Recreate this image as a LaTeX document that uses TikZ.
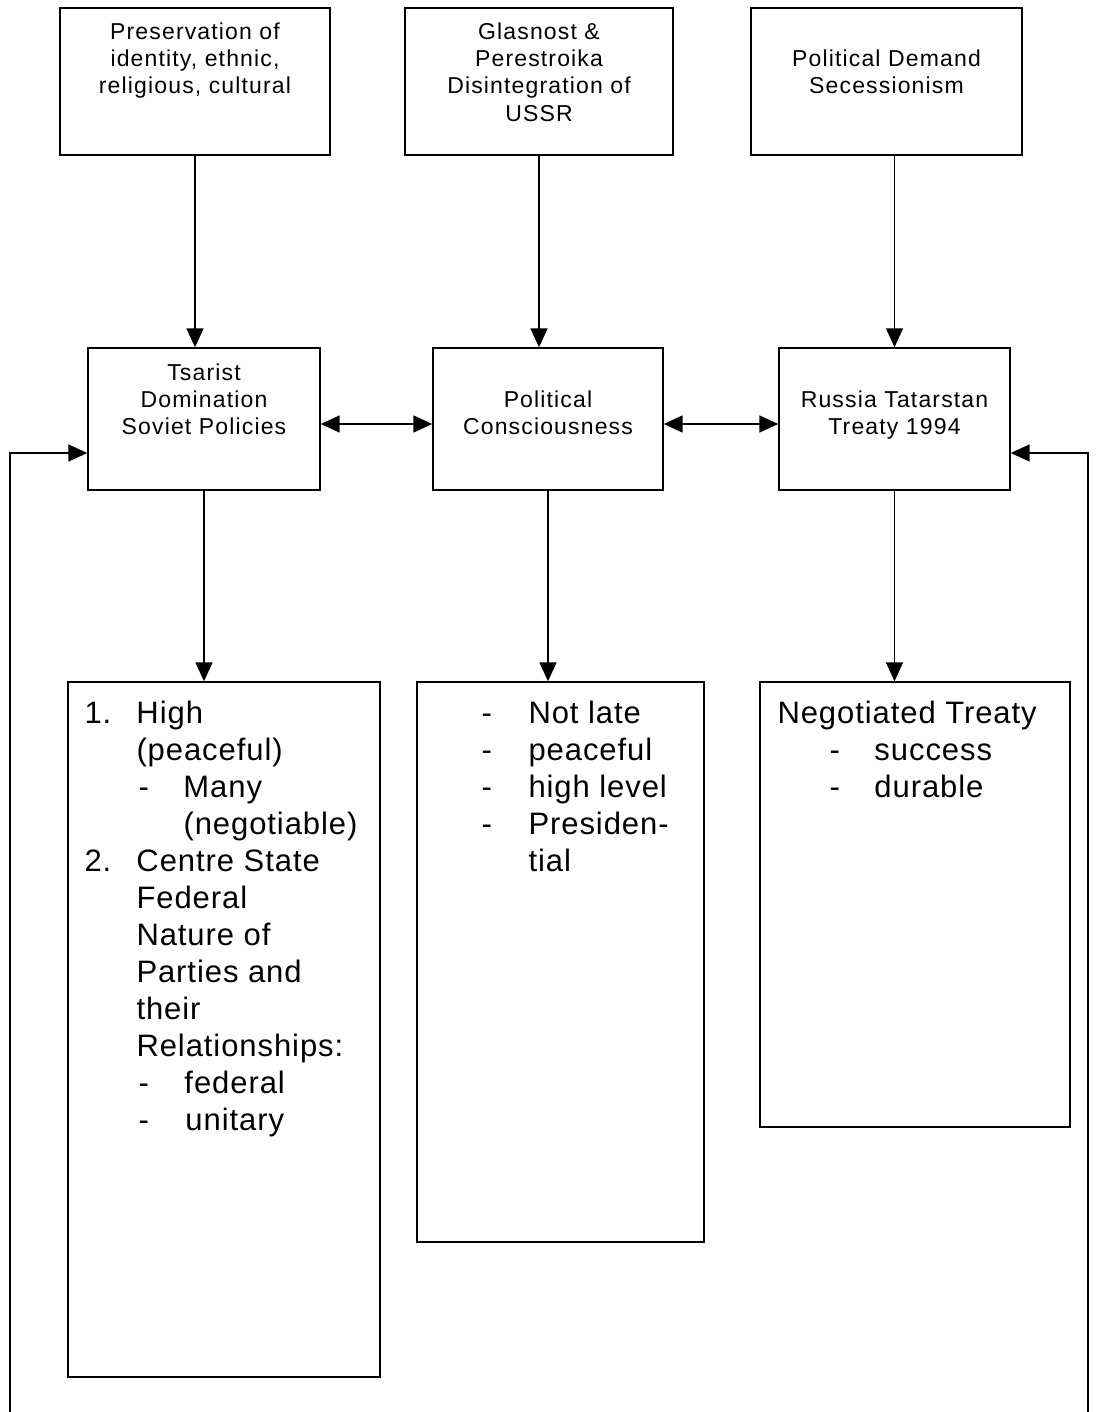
\documentclass[tikz,border=0pt]{standalone}
\usepackage{fontspec}
\setmainfont{Liberation Sans}
\newfontfamily\headfont[LetterSpace=5]{Liberation Sans}
\newfontfamily\listfont[LetterSpace=3]{Liberation Sans}
\usetikzlibrary{arrows.meta,positioning}
\begin{document}
\begin{tikzpicture}[x=1pt,y=-1pt,
		box/.style={draw, line width=1.4pt, inner sep=0pt},
		headtext/.style={inner sep=0pt, align=center, font=\headfont\fontsize{23}{27.3}\selectfont},
		listtext/.style={inner sep=0pt, align=left, font=\listfont\fontsize{31}{37}\selectfont},
		arr/.style={line width=1.5pt, -{Triangle[length=19pt,width=17pt]}},
		dbl/.style={line width=1.5pt, {Triangle[length=19pt,width=17pt]}-{Triangle[length=19pt,width=17pt]}}]
	\useasboundingbox[fill=white] (0,0) rectangle (1101,1412);
	% top row
	\node[box, minimum width=270pt, minimum height=147pt] (pres) at (195,81.5) {};
	\node[box, minimum width=268pt, minimum height=147pt] (glas) at (539,81.5) {};
	\node[box, minimum width=271pt, minimum height=147pt] (demand) at (886.5,81.5) {};
	\node[headtext, below=15pt of pres.north] (presT) {Preservation of\\identity, ethnic,\\religious, cultural};
	\node[headtext, below=15pt of glas.north] (glasT) {Glasnost \&\\Perestroika\\Disintegration of\\USSR};
	\node[headtext, below=42pt of demand.north] (demandT) {Political Demand\\Secessionism};
	% middle row
	\node[box, minimum width=232pt, minimum height=142pt] (tsar) at (204,419) {};
	\node[box, minimum width=230pt, minimum height=142pt] (consc) at (548,419) {};
	\node[box, minimum width=231pt, minimum height=142pt] (treaty) at (894.5,419) {};
	\node[headtext, below=16pt of tsar.north] (tsarT) {Tsarist\\Domination\\Soviet Policies};
	\node[headtext, below=43pt of consc.north] (conscT) {Political\\Consciousness};
	\node[headtext, below=43pt of treaty.north] (treatyT) {Russia Tatarstan\\Treaty 1994};
	% bottom row
	\node[box, minimum width=312pt, minimum height=695pt] (hilist) at (224,1029.5) {};
	\node[box, minimum width=287pt, minimum height=560pt] (lowlist) at (560.5,962) {};
	\node[box, minimum width=310pt, minimum height=445pt] (neglist) at (915,904.5) {};
	\node[listtext, below right=20pt and 17pt of hilist.north west] (hilistT)
		{\makebox[52pt][l]{1.}High\\
		 \hspace*{52pt}(peaceful)\\
		 \hspace*{54pt}\makebox[45pt][l]{-}Many\\
		 \hspace*{99pt}(negotiable)\\
		 \makebox[52pt][l]{2.}Centre State\\
		 \hspace*{52pt}Federal\\
		 \hspace*{52pt}Nature of\\
		 \hspace*{52pt}Parties and\\
		 \hspace*{52pt}their\\
		 \hspace*{52pt}Relationships:\\
		 \hspace*{54pt}\makebox[46pt][l]{-}federal\\
		 \hspace*{54pt}\makebox[47pt][l]{-}unitary};
	\node[listtext, below right=20pt and 65pt of lowlist.north west] (lowlistT)
		{\makebox[47pt][l]{-}Not late\\
		 \makebox[47pt][l]{-}peaceful\\
		 \makebox[47pt][l]{-}high level\\
		 \makebox[47pt][l]{-}Presiden-\\
		 \hspace*{47pt}tial};
	\node[listtext, below right=20pt and 18pt of neglist.north west] (neglistT)
		{Negotiated Treaty\\
		 \hspace*{52pt}\makebox[45pt][l]{-}success\\
		 \hspace*{52pt}\makebox[45pt][l]{-}durable};
	% connectors
	\draw[arr] (pres.south) -- (pres.south |- tsar.north);
	\draw[arr] (glas.south) -- (glas.south |- consc.north);
	\draw[arr] (treaty.north |- demand.south) -- (treaty.north);
	\draw[arr] (tsar.south) -- (tsar.south |- hilist.north);
	\draw[arr] (consc.south) -- (consc.south |- lowlist.north);
	\draw[arr] (treaty.south) -- (treaty.south |- neglist.north);
	\draw[dbl] ([yshift=-5pt]tsar.east) -- ([yshift=-5pt]consc.west);
	\draw[dbl] ([yshift=-5pt]consc.east) -- ([yshift=-5pt]treaty.west);
	% feedback lines
	\coordinate (lfoot) at (10,1412);
	\coordinate (rfoot) at (1088,1412);
	\draw[arr] (lfoot) |- ([yshift=-34pt]tsar.west);
	\draw[arr] (rfoot) |- ([yshift=-34pt]treaty.east);
\end{tikzpicture}
\end{document}
